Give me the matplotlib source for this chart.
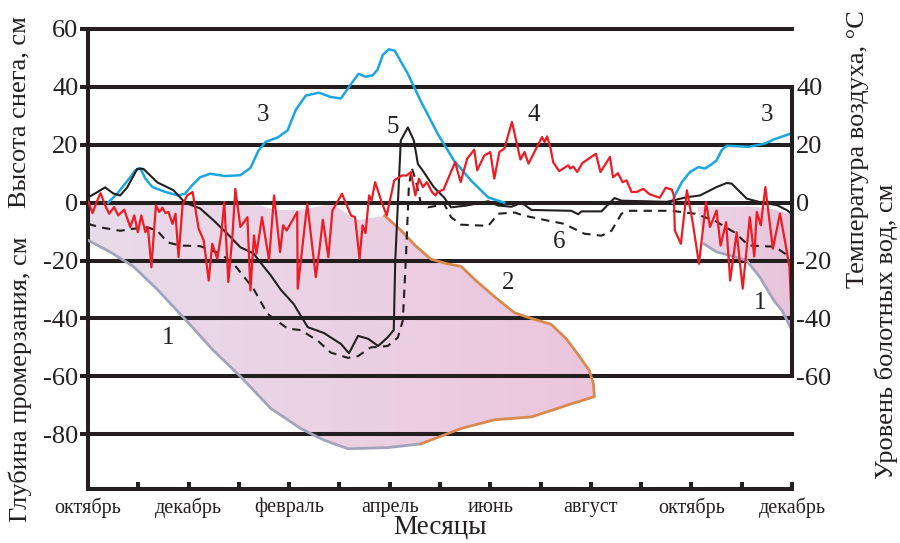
import numpy as np
import matplotlib
matplotlib.use('Agg')
import matplotlib.pyplot as plt
from matplotlib.patches import Polygon
from matplotlib.colors import LinearSegmentedColormap

plt.rcParams['font.family'] = ['Liberation Serif', 'DejaVu Serif']
plt.rcParams['axes.unicode_minus'] = False
plt.rcParams['lines.solid_joinstyle'] = 'round'
plt.rcParams['lines.dash_joinstyle'] = 'round'

# x = months since 1 October
month_labels = ['октябрь', 'декабрь', 'февраль', 'апрель', 'июнь', 'август', 'октябрь', 'декабрь']

# 4 - air temperature, °C
temp_x = [0, 0.09, 0.17, 0.25, 0.34, 0.42, 0.52, 0.60, 0.72, 0.84,
          0.92, 0.99, 1.06, 1.14, 1.19, 1.26, 1.35, 1.42, 1.48, 1.54,
          1.60, 1.68, 1.74, 1.80, 1.88, 1.97, 2.08, 2.20, 2.30, 2.40,
          2.47, 2.57, 2.65, 2.71, 2.79, 2.87, 2.93, 3.03, 3.17, 3.23,
          3.30, 3.35, 3.46, 3.60, 3.70, 3.82, 3.88, 3.95, 4.16, 4.17,
          4.36, 4.53, 4.61, 4.67, 4.78, 4.86, 5.05, 5.23, 5.31, 5.40,
          5.46, 5.52, 5.59, 5.64, 5.71, 5.84, 5.94, 6.09, 6.24, 6.34,
          6.42, 6.51, 6.58, 6.66, 6.74, 6.84, 6.91, 6.95, 7.07, 7.30,
          7.41, 7.54, 7.68, 7.74, 7.88, 8.00, 8.08, 8.18, 8.28, 8.43,
          8.60, 8.68, 8.76, 9.03, 9.08, 9.13, 9.20, 9.25, 9.37, 9.55,
          9.59, 9.65, 9.73, 9.83, 10.10, 10.19, 10.38, 10.44, 10.54, 10.63,
          10.71, 10.81, 10.91, 11.04, 11.17, 11.37, 11.49, 11.61, 11.65, 11.67,
          11.79, 11.91, 12.03, 12.15, 12.29, 12.37, 12.50, 12.58, 12.69, 12.77,
          12.90, 13.02, 13.16, 13.25, 13.30, 13.38, 13.47, 13.62, 13.76, 13.87,
          13.95, 13.98]
temp_y = [0.6, -3.6, 0.2, 3.3, -0.9, -3.8, -1.5, -4.4, -2.4, -8.4,
          -4.4, -10.2, -4.4, -10.2, -8.4, -22.3, -0.9, -3.2, -1.7, -3.6,
          -3.2, -7.3, -3.8, -18.8, -0.9, 2.5, 3.7, -9, -13, -26.9,
          -14.2, -19.4, -10.7, 0.2, -27.4, -11.9, 4.8, -8.4, -5, -30.3,
          -11.3, -17.6, -5, -19.9, 2.5, -17.1, -7.8, -9.6, -3.2, -29.7,
          -0.3, -25.7, -15, -5.9, -18.8, -2.7, 3.1, -4.4, -5, -19.4,
          -7.8, -10.5, 2.5, 0.8, 7.1, 0.2, -4.4, 7.7, 9.4, 9.4,
          10.6, 2.5, 8.3, 5.4, 7.1, 3.7, 2.5, 3.7, 4.5, 14,
          7.1, 15.2, 18.3, 11.2, 16.3, 17.5, 8.3, 17.5, 18.7, 27.9,
          14.9, 17.5, 13.5, 22.7, 20.9, 22.9, 18.7, 14, 10.9, 12.9,
          11.8, 12.5, 10.6, 13.7, 16.9, 10.6, 15.8, 8.8, 10.2, 7.1,
          7.7, 3.7, 3.7, 4.8, 2.9, 1.7, 5.2, 4.5, 2.5, -9.6,
          -14.2, 4.3, -7.3, -21.1, 0.2, -8.4, -2.7, -14.8, -6.7, -26.9,
          -10.2, -29.7, -5, -18.6, -3.2, -7.8, 5.4, -15.9, -3.8, -14.2,
          -22.3, -34.4]

# 5 - bog water level, cm
water_x = [0, 0.18, 0.34, 0.50, 0.64, 0.78, 0.98, 1.10, 1.38, 1.70, 1.93, 2.23,
           2.49, 2.77, 3.03, 3.29, 3.49, 3.63, 3.83, 4.09, 4.37, 4.69, 5.03, 5.19,
           5.37, 5.57, 5.77, 5.96, 6.08, 6.11, 6.22, 6.36, 6.48, 6.56, 6.68, 6.88,
           7.08, 7.22, 7.52, 7.96, 8.16, 8.42, 8.62, 8.82, 9.61, 9.75, 9.81, 10.21,
           10.47, 10.61, 11.51, 11.91, 12.17, 12.50, 12.70, 12.80, 13.10, 13.36,
           13.71, 13.91, 13.98]
water_y = [1.8, 3.6, 5.3, 3.2, 2.5, 5.3, 11.7, 11.7, 7, 4.3, 0, -2,
           -6, -10.7, -15.4, -17.5, -22, -25, -30, -35, -43, -45, -48.8, -52,
           -46, -47, -49.5, -46.5, -44, -20, 21.5, 26, 21.5, 13.4, 10.5, 5.3,
           1.8, -1.6, -1, 0.5, -1, -1.4, 0, -2.5, -2.8, -4, -3, -3,
           1.6, 0.7, 0.3, 1.9, 2.5, 5.4, 6.8, 6.6, 1.4, 0.2,
           -0.9, -2.7, -3.7]

# 6 - second water level series (dashed)
dash_x = [0, 0.24, 0.64, 0.90, 1.18, 1.38, 1.58, 1.83, 2.23, 2.63, 2.89, 3.29,
          3.57, 3.97, 4.23, 4.57, 4.83, 5.17, 5.37, 5.62, 5.96, 6.16, 6.26, 6.32,
          6.38, 6.44, 6.52, 6.62, 6.76, 6.96, 7.08, 7.22, 7.42, 7.96, 8.16, 8.48,
          8.68, 9.15, 9.47, 9.75, 9.87, 10.21, 10.41, 10.61, 10.75, 11.61, 12.07,
          12.46, 12.86, 13.14, 13.66, 13.86, 14.0]
dash_y = [-7.3, -8.5, -9.7, -9, -8.5, -9.7, -13.7, -14.8, -15, -17.6, -21, -29.7,
          -38.4, -43.5, -44, -47.7, -51.8, -53.6, -53, -50, -49.5, -46.6, -40.7, -20,
          5.4, 12, 7.6, -0.3, -1.6, -1, -0.3, -5, -7.6, -8, -3.8, -3.4,
          -4.5, -6.2, -7.3, -9.7, -10.7, -11.4, -9.7, -3.8, -2.8, -2.8, -3.8,
          -6.2, -10.3, -14.8, -15.2, -17.6, -19]

# 3 - snow depth, cm
snow1_x = [0.40, 0.48, 0.58, 0.84, 0.94, 1.04, 1.14, 1.28, 1.54, 1.79, 1.93, 2.07,
           2.23, 2.43, 2.73, 3.03, 3.23, 3.39, 3.53, 3.77, 3.97, 4.13, 4.33, 4.59,
           4.83, 5.03, 5.23, 5.38, 5.52, 5.66, 5.76, 5.86, 5.98, 6.10, 6.36, 6.62,
           6.96, 7.28, 7.62, 7.96, 8.28]
snow1_y = [0, 1.4, 3.1, 8.8, 11.2, 12, 8.3, 5.4, 3.7, 2.5, 3.1, 6,
           8.8, 10, 9.2, 9.5, 12, 18, 21, 22.5, 25, 32, 37, 38,
           36.5, 36, 41, 44.5, 43.5, 44, 46, 51, 53, 52.5, 44.5, 35,
           23.6, 14.5, 7.6, 1.8, 0]
snow2_x = [11.63, 11.67, 11.81, 11.97, 12.14, 12.27, 12.37, 12.50, 12.60, 12.70,
           13.14, 13.46, 13.66, 14.0]
snow2_y = [0, 2.5, 7.1, 10.6, 12.3, 11.8, 12.9, 14.6, 18.1, 19.7,
           19.3, 20.4, 22, 24]

# 1 - frost front, 2 - thaw front (cm)
frost1_x = [0, 0.44, 0.90, 1.38, 1.97, 2.49, 3.03, 3.63, 4.23, 4.69, 5.17, 5.96, 6.62]
frost1_y = [-13, -17, -22, -30, -41, -51, -60, -71, -78, -82, -85, -84.6, -83.3]
thaw_x = [5.90, 6.22, 6.52, 6.82, 7.12, 7.42, 7.72, 8.12, 8.48, 8.82, 9.21, 9.51,
          9.77, 9.97, 10.05, 10.07, 9.61, 8.82, 8.08, 7.42, 6.62]
thaw_y = [-4.5, -9.5, -15, -19.5, -21, -22, -27, -33, -38, -40, -42, -47,
          -53, -58, -62.5, -67, -69.5, -74, -75, -78, -83.3]
top1_x = [0, 2.23, 3.43, 3.73, 4.23, 4.53, 4.87, 5.19, 5.38]
top1_y = [-0.5, -0.5, -1, -2.5, -2.5, -1.5, -0.3, -4.4, -6]
frost2_x = [12.25, 12.50, 12.84, 13.10, 13.36, 13.64, 13.80, 14.0]
frost2_y = [-14.2, -17, -18.6, -20, -25.7, -33.8, -37.2, -44]
top2_x = [12.12, 13.10, 13.50, 14.0]
top2_y = [-1.5, -1.3, -1.8, -4]

dark = '#231f20'
fig = plt.figure(figsize=(9, 5.43), dpi=100)
ax = fig.add_axes([0.0978, 0.0989, 0.7822, 0.8477])


def gradient_fill(xs, ys, c0, c1):
    poly = Polygon(np.column_stack([xs, ys]), closed=True, fc='none', ec='none')
    ax.add_patch(poly)
    cmap = LinearSegmentedColormap.from_list('g', [c0, c1])
    grad = np.linspace(0, 1, 256).reshape(1, -1)
    im = ax.imshow(grad, cmap=cmap, aspect='auto', zorder=1,
                   extent=[min(xs), max(xs), min(ys), max(ys)])
    im.set_clip_path(poly)


gradient_fill(top1_x + thaw_x + frost1_x[::-1], top1_y + thaw_y + frost1_y[::-1],
              '#e8dcea', '#edc5dc')
gradient_fill(top2_x + frost2_x[::-1], top2_y + frost2_y[::-1], '#ead6e8', '#e8c3da')

for v in [60, 40, 20, 0, -20, -40, -60, -80]:
    ax.axhline(v, color=dark, lw=2.9, zorder=2, clip_on=False)

ax.plot(frost1_x, frost1_y, color='#a3a4bb', lw=2.0, zorder=3)
ax.plot(frost2_x, frost2_y, color='#a3a4bb', lw=2.0, zorder=3)
ax.plot(thaw_x, thaw_y, color='#d78a4e', lw=2.0, zorder=3)

ax.plot(snow1_x, snow1_y, color='#1aa7df', lw=1.8, zorder=4)
ax.plot(snow2_x, snow2_y, color='#1aa7df', lw=1.8, zorder=4)
ax.plot(water_x, water_y, color=dark, lw=1.5, zorder=4)
ax.plot(dash_x, dash_y, color=dark, lw=1.5, ls=(0, (4, 3)), zorder=4)
ax.plot(temp_x, temp_y, color='#ed1c24', lw=1.6, zorder=5)

ax.set_xlim(0, 14)
ax.set_ylim(-99, 60)

for s in ['top', 'right']:
    ax.spines[s].set_visible(False)
for s in ['left', 'bottom']:
    ax.spines[s].set_linewidth(2.9)
    ax.spines[s].set_color(dark)

ax.set_xticks(range(15))
ax.set_xticklabels([month_labels[i // 2] if i % 2 == 0 else '' for i in range(15)])
ax.tick_params(axis='x', direction='in', length=5, width=2.9, color=dark,
               labelsize=14.5, pad=6, labelcolor=dark)
ax.set_yticks([60, 40, 20, 0, -20, -40, -60, -80])
ax.tick_params(axis='y', direction='out', length=6, width=2.9, color=dark,
               labelsize=19, pad=1, labelcolor=dark)

ax2 = ax.twinx()
ax2.set_ylim(ax.get_ylim())
for s in ['top', 'left', 'bottom']:
    ax2.spines[s].set_visible(False)
ax2.spines['right'].set_bounds(-60, 40)
ax2.spines['right'].set_linewidth(2.9)
ax2.spines['right'].set_color(dark)
ax2.set_yticks([40, 20, 0, -20, -40, -60])
ax2.tick_params(axis='y', length=0, labelsize=19, pad=3, labelcolor=dark)

labels = [('1', 1.60, -46.6), ('1', 13.36, -34.8), ('2', 8.36, -27.6),
          ('3', 3.47, 30.2), ('3', 13.50, 30.2), ('4', 8.86, 30.2),
          ('5', 6.06, 26), ('6', 9.37, -13.6)]
for t, x, y in labels:
    ax.text(x, y, t, fontsize=18, ha='center', va='center', color=dark, zorder=6)

fig.text(0.489, 0.029, 'Месяцы', fontsize=19.5, ha='center', va='center', color=dark)
fig.text(0.022, 0.794, 'Высота снега, см', fontsize=19, rotation=90,
         ha='center', va='center', color=dark)
fig.text(0.022, 0.302, 'Глубина промерзания, см', fontsize=19, rotation=90,
         ha='center', va='center', color=dark)
fig.text(0.953, 0.725, 'Температура воздуха, °C', fontsize=19, rotation=90,
         ha='center', va='center', color=dark)
fig.text(0.985, 0.389, 'Уровень болотных вод, см', fontsize=19, rotation=90,
         ha='center', va='center', color=dark)

fig.savefig('out.png', dpi=100)
